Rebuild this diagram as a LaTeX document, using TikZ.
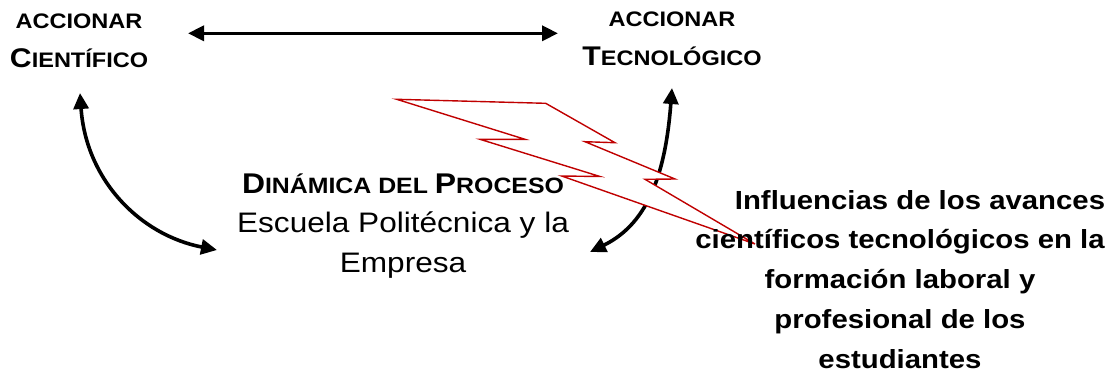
\documentclass[tikz,border=0pt]{standalone}
\usepackage{fontspec}
\setmainfont{Liberation Sans}[FakeStretch=1.12]
\usetikzlibrary{arrows.meta}
\definecolor{boltred}{HTML}{C00000}
\newcommand\smallcap[2]{{\fontsize{#1}{39.5}\selectfont #2}}
\begin{document}
\begin{tikzpicture}[x=1pt,y=-1pt,
  lbl/.style={inner sep=0pt, align=center, anchor=base, font=\bfseries\fontsize{27}{39.5}\selectfont},
  arr/.style={line width=3.6pt, {Triangle[length=16pt,width=15pt]}-{Triangle[length=16pt,width=15pt]}},
  bolt/.style={draw=boltred, line width=1.4pt, fill=white, line join=miter}]
\useasboundingbox (0,0) rectangle (1115,376);

% connectors
\coordinate (hL) at (188,33.3);
\coordinate (hR) at (558,33.3);
\draw[arr] (hL) -- (hR);
\coordinate (lTop) at (80,93);
\coordinate (lBot) at (217,250);
\draw[arr] (lTop) .. controls (86,180) and (140,235) .. (lBot);
\coordinate (rTop) at (672,88);
\coordinate (rBot) at (590,252);
\draw[arr] (rTop) .. controls (665,180) and (645,225) .. (rBot);

% lightning bolt
\draw[bolt] (396.7,99.3) -- (545.7,103.3) -- (615,142.7) -- (585,141.7) -- (675,179)
  -- (645,179.3) -- (755,244) -- (561.7,176) -- (600,176.5) -- (480,139.3)
  -- (525,139.3) -- cycle;

% texts (base anchor = baseline of the last line)
\node[lbl] (cien) at (79,67.5) {\smallcap{21}{ACCIONAR}\\C\smallcap{21}{IENTÍFICO}};
\node[lbl] (tec) at (672,65.5) {\smallcap{21}{ACCIONAR}\\T\smallcap{21}{ECNOLÓGICO}};
\node[anchor=base, align=center, inner sep=0pt, font=\fontsize{28.2}{39.5}\selectfont] (din) at (403,272)
  {{\bfseries\fontsize{28.5}{39.5}\selectfont D\smallcap{22.2}{INÁMICA DEL }P\smallcap{22.2}{ROCESO}}\\Escuela Politécnica y la\\Empresa};
\node[anchor=base, align=center, inner sep=0pt, font=\bfseries\fontsize{26.2}{39.75}\selectfont] (infl) at (900,368)
  {\hspace*{40pt}Influencias de los avances\\científicos tecnológicos en la\\formación laboral y\\profesional de los\\estudiantes};
\end{tikzpicture}
\end{document}
